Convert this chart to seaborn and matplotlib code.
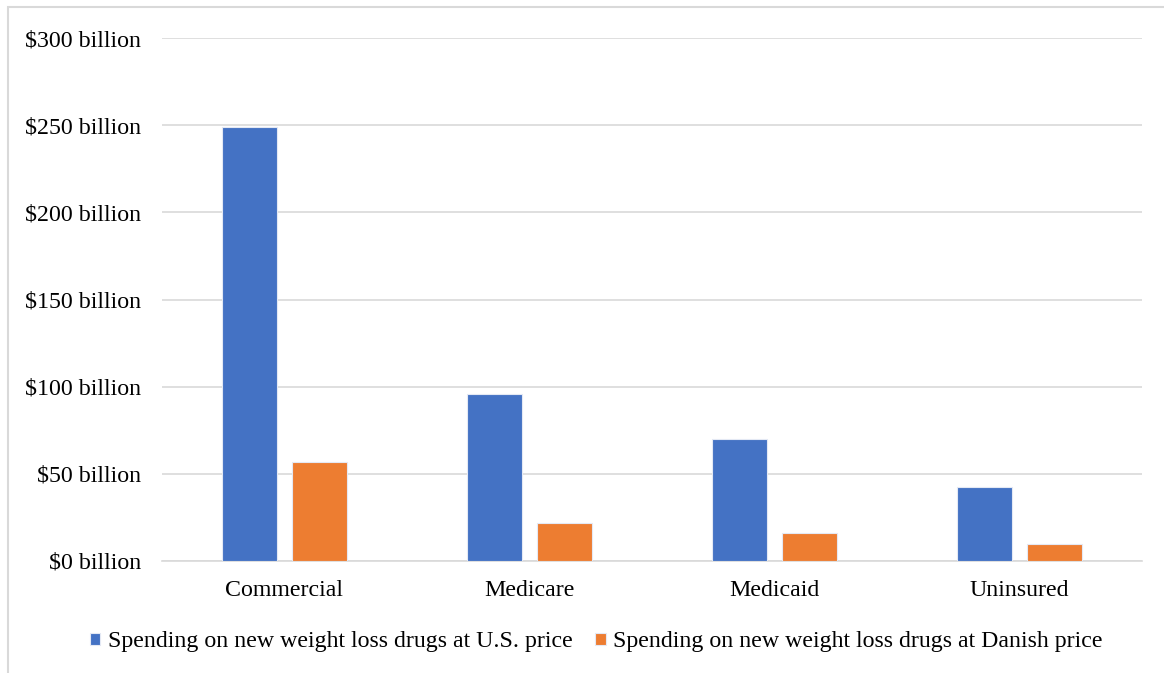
import matplotlib
matplotlib.use("Agg")
import matplotlib.pyplot as plt
from matplotlib.patches import Rectangle
import pandas as pd
import seaborn as sns

categories = ["Commercial", "Medicare", "Medicaid", "Uninsured"]
us_price = [249, 96, 70, 42.3]
danish_price = [57, 22, 16, 9.8]
series_names = [
    "Spending on new weight loss drugs at U.S. price",
    "Spending on new weight loss drugs at Danish price",
]
y_ticks = [0, 50, 100, 150, 200, 250, 300]

df = pd.DataFrame({
    "category": categories * 2,
    "value": us_price + danish_price,
    "series": [series_names[0]] * len(categories) + [series_names[1]] * len(categories),
})

sns.set_theme(style="white")
plt.rcParams["font.family"] = ["Liberation Serif", "DejaVu Serif"]
plt.rcParams["text.color"] = "black"

fig = plt.figure(figsize=(11.64, 6.73), dpi=100)
ax = fig.add_axes([162 / 1164, 1 - 561 / 673, 980 / 1164, 523 / 673])

grid_c = "#d9d9d9"
fs = 17.2
sns.barplot(
    data=df, x="category", y="value", hue="series",
    palette=["#4472C4", "#ED7D31"], saturation=1, width=0.572, gap=0.217,
    edgecolor="#e4e9f4", linewidth=0.8, ax=ax, legend=True, zorder=3,
)

ax.set_ylim(0, 300)
ax.set_xlim(-0.5, len(categories) - 0.5)
ax.set_yticks(y_ticks)
ax.set_yticklabels([f"${v} billion" for v in y_ticks], fontsize=fs, color="#000000")
ax.tick_params(axis="x", labelsize=fs, colors="#000000", pad=14, length=0)
ax.tick_params(axis="y", length=0, pad=15)
ax.set_xlabel("")
ax.set_ylabel("")
ax.yaxis.grid(True, color=grid_c, linewidth=1.2, zorder=0)
ax.set_axisbelow(True)
for s in ["top", "right", "left"]:
    ax.spines[s].set_visible(False)
ax.spines["bottom"].set_color(grid_c)
ax.spines["bottom"].set_linewidth(1.2)

handles, labels = ax.get_legend_handles_labels()
ax.legend_.remove()
fig.legend(
    handles, labels, loc="center", bbox_to_anchor=(596 / 1164, 1 - 642 / 673),
    ncol=2, frameon=False, fontsize=fs, labelcolor="black",
    handlelength=0.45, handleheight=0.45, handletextpad=0.3, columnspacing=0.95,
)

# outer chart frame
fig.patches.append(Rectangle((8 / 1164, -0.1), 1.2, 1.1 - 7 / 673,
                             transform=fig.transFigure, fill=False,
                             edgecolor=grid_c, linewidth=1.5))

fig.savefig("out.png", dpi=100)
